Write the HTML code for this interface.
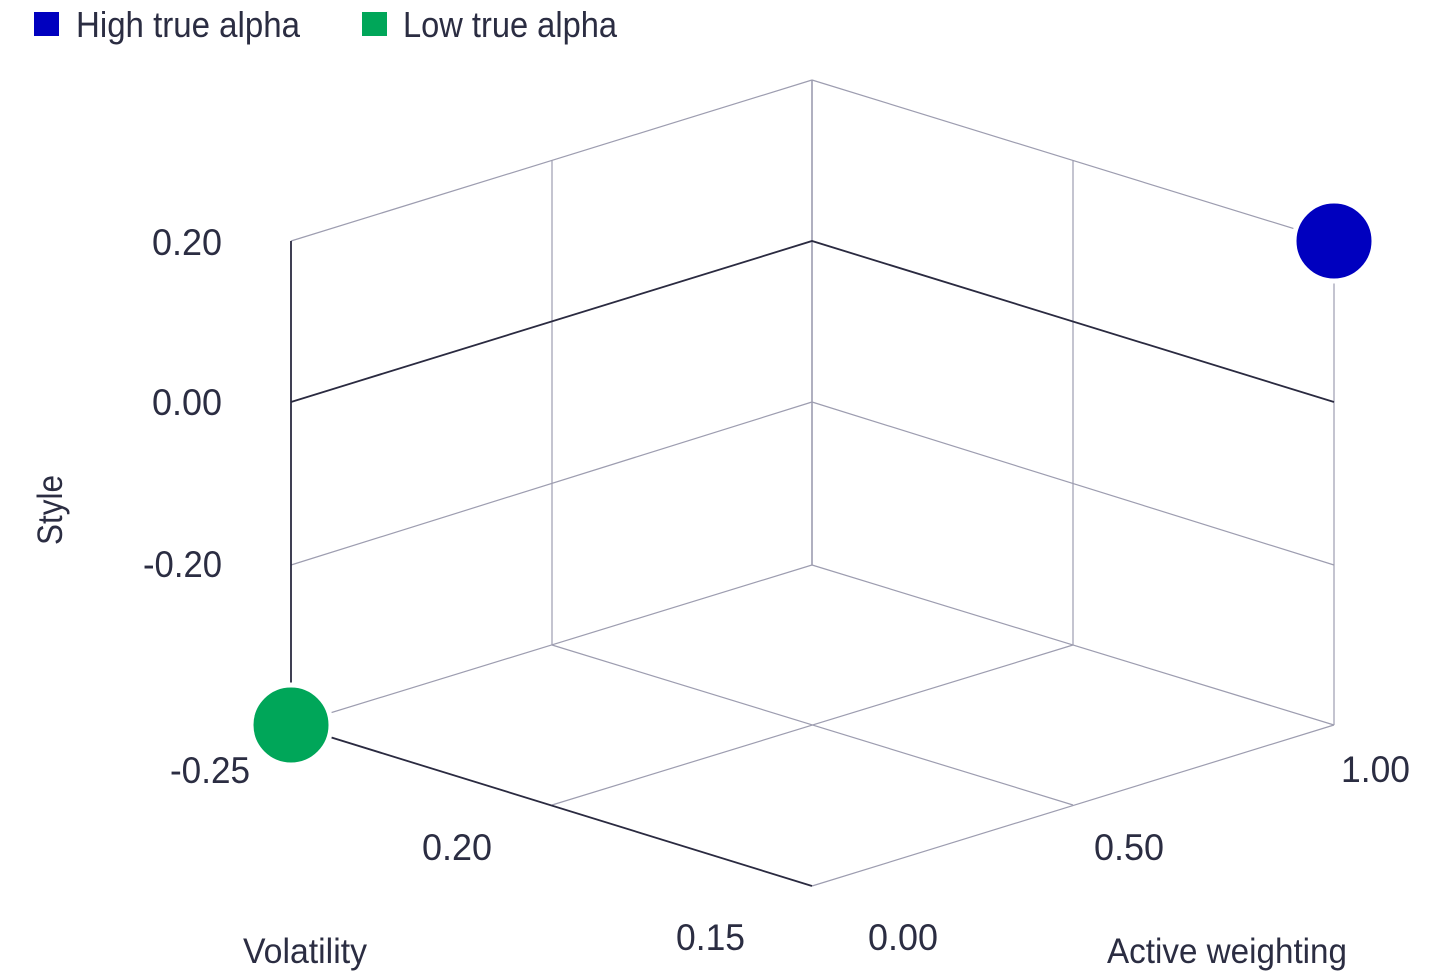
<!DOCTYPE html>
<html>
<head>
<meta charset="utf-8">
<style>
  html, body { margin: 0; padding: 0; background: #ffffff; }
  body { width: 1431px; height: 976px; overflow: hidden; }
  svg { display: block; }
  text { font-family: "Liberation Sans", sans-serif; fill: #2b2d42; }
</style>
</head>
<body>
<svg width="1431" height="976" viewBox="0 0 1431 976" xmlns="http://www.w3.org/2000/svg">
  <!-- Legend -->
  <rect x="34" y="12" width="25" height="24" fill="#0000bf"/>
  <text x="76" y="37" font-size="36" textLength="224" lengthAdjust="spacingAndGlyphs">High true alpha</text>
  <rect x="362" y="12" width="25" height="24" fill="#00a659"/>
  <text x="403" y="37" font-size="36" textLength="214" lengthAdjust="spacingAndGlyphs">Low true alpha</text>

  <!-- gray grid -->
  <g stroke="#9d9db0" stroke-width="1.2" fill="none">
    <line x1="291" y1="241" x2="812" y2="80"/>
    <line x1="291" y1="565" x2="812" y2="402"/>
    <line x1="291" y1="725" x2="812" y2="565"/>
    <line x1="812" y1="80" x2="1334" y2="241"/>
    <line x1="812" y1="402" x2="1334" y2="565"/>
    <line x1="812" y1="565" x2="1334" y2="725"/>
    <line x1="812" y1="80" x2="812" y2="565" stroke-width="1.6"/>
    <line x1="552" y1="160" x2="552" y2="645"/>
    <line x1="1073" y1="160" x2="1073" y2="645"/>
    <line x1="1334" y1="241" x2="1334" y2="725"/>
    <line x1="812" y1="886" x2="1334" y2="725"/>
    <line x1="552" y1="645" x2="1073" y2="805"/>
    <line x1="552" y1="805" x2="1073" y2="645"/>
  </g>

  <!-- dark lines -->
  <g stroke="#2a2a40" stroke-width="1.8" fill="none">
    <line x1="291" y1="241" x2="291" y2="725"/>
    <polyline points="291,402 812,241 1334,402"/>
    <line x1="291" y1="725" x2="812" y2="886"/>
  </g>

  <!-- data points -->
  <circle cx="1334" cy="241" r="40" fill="#0000bf" stroke="#ffffff" stroke-width="5"/>
  <circle cx="291" cy="725" r="40" fill="#00a659" stroke="#ffffff" stroke-width="5"/>

  <!-- Style axis labels -->
  <g font-size="37">
    <text x="152" y="255" textLength="70" lengthAdjust="spacingAndGlyphs">0.20</text>
    <text x="152" y="415" textLength="70" lengthAdjust="spacingAndGlyphs">0.00</text>
    <text x="143" y="577" textLength="79" lengthAdjust="spacingAndGlyphs">-0.20</text>
    <text x="170" y="783" textLength="80" lengthAdjust="spacingAndGlyphs">-0.25</text>
  </g>
  <text x="0" y="0" font-size="35" text-anchor="middle" textLength="70" lengthAdjust="spacingAndGlyphs" transform="translate(62,510) rotate(-90)">Style</text>

  <!-- Volatility axis -->
  <text x="422" y="860" font-size="37" textLength="70" lengthAdjust="spacingAndGlyphs">0.20</text>
  <text x="676" y="950" font-size="37" textLength="69" lengthAdjust="spacingAndGlyphs">0.15</text>
  <text x="243" y="963" font-size="35" textLength="124" lengthAdjust="spacingAndGlyphs">Volatility</text>

  <!-- Active weighting axis -->
  <text x="868" y="950" font-size="37" textLength="70" lengthAdjust="spacingAndGlyphs">0.00</text>
  <text x="1094" y="860" font-size="37" textLength="70" lengthAdjust="spacingAndGlyphs">0.50</text>
  <text x="1341" y="782" font-size="37" textLength="69" lengthAdjust="spacingAndGlyphs">1.00</text>
  <text x="1107" y="963" font-size="35" textLength="240" lengthAdjust="spacingAndGlyphs">Active weighting</text>
</svg>
</body>
</html>
